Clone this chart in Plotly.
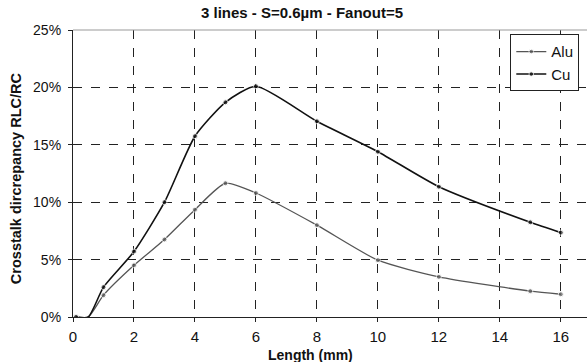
import plotly.graph_objects as go

length_mm = [0.1, 0.5, 1, 2, 3, 4, 5, 6, 8, 10, 12, 15, 16]
alu_pct = [0.0, 0.0, 1.9, 4.5, 6.75, 9.35, 11.65, 10.8, 8.0, 4.95, 3.5, 2.25, 1.98]
cu_pct = [0.0, 0.0, 2.6, 5.7, 10.0, 15.75, 18.7, 20.1, 17.05, 14.4, 11.35, 8.25, 7.35]
has_marker = [True, False, True, True, True, True, True, True, True, True, True, True, True]

x_ticks = [0, 2, 4, 6, 8, 10, 12, 14, 16]
y_ticks = [0, 5, 10, 15, 20, 25]
y_tick_labels = ["0%", "5%", "10%", "15%", "20%", "25%"]

FONT = "Liberation Sans, Arial, sans-serif"

fig = go.Figure()
fig.add_trace(go.Scatter(
    x=length_mm, y=alu_pct, name="Alu", mode="lines+markers",
    line=dict(color="#555555", width=1.3, shape="spline", smoothing=0.6),
    marker=dict(color="#555555", size=[5 if m else 0 for m in has_marker], symbol="circle"),
))
fig.add_trace(go.Scatter(
    x=length_mm, y=cu_pct, name="Cu", mode="lines+markers",
    line=dict(color="#111111", width=1.6, shape="spline", smoothing=0.6),
    marker=dict(color="#111111", size=[5 if m else 0 for m in has_marker], symbol="circle"),
))

PW, PH = 514, 286.7
fig.update_layout(
    width=587, height=362,
    margin=dict(l=73, r=0, t=30, b=45),
    paper_bgcolor="white", plot_bgcolor="white",
    font=dict(family=FONT, color="#111111", size=15),
    title=dict(text="<b>3 lines - S=0.6µm - Fanout=5</b>", x=0.5145, xanchor="center",
               y=0.965, yanchor="middle", font=dict(size=15)),
    showlegend=True,
    legend=dict(x=0.985, y=0.985, xanchor="right", yanchor="top",
                bordercolor="#222222", borderwidth=1, bgcolor="white",
                font=dict(size=15), itemwidth=30, tracegroupgap=0),
    annotations=[
        dict(text="<b>Length (mm)</b>", xref="paper", yref="paper",
             x=(310 - 73) / PW, y=-(355 - 316.7) / PH,
             xanchor="center", yanchor="middle", showarrow=False, font=dict(size=14)),
        dict(text="<b>Crosstalk dircrepancy RLC/RC</b>", xref="paper", yref="paper",
             x=-(73 - 16) / PW, y=(316.7 - 178) / PH, textangle=-90,
             xanchor="center", yanchor="middle", showarrow=False, font=dict(size=14.5)),
    ],
)
fig.update_xaxes(
    range=[0, 16.86], tickvals=x_ticks, ticks="outside", ticklen=4, tickcolor="#222222",
    ticklabelstandoff=2,
    showline=True, linecolor="#222222", linewidth=1.2,
    showgrid=True, gridcolor="#222222", griddash="dash", gridwidth=1,
    zeroline=False, tickfont=dict(size=15),
)
fig.update_yaxes(
    range=[0, 25], tickvals=y_ticks, ticktext=y_tick_labels, ticks="outside", ticklen=4,
    tickcolor="#222222", ticklabelstandoff=4,
    showline=True, linecolor="#222222", linewidth=1.2, mirror=False,
    showgrid=True, gridcolor="#222222", griddash="dash", gridwidth=1,
    zeroline=False, tickfont=dict(size=14),
)
fig.add_shape(type="line", xref="paper", yref="paper", x0=0, x1=1, y0=1, y1=1,
              line=dict(color="#999999", width=1.2))

fig.write_html("out.html")
